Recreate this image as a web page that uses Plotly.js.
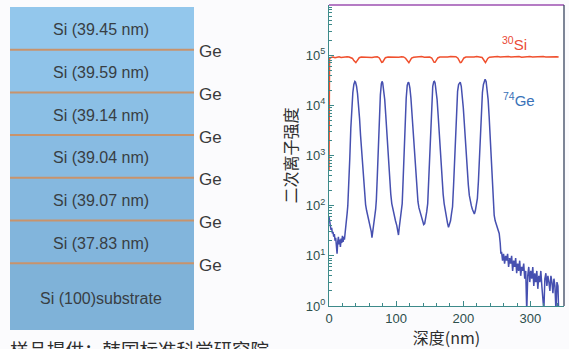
<!DOCTYPE html>
<html><head><meta charset="utf-8">
<script src="https://cdn.plot.ly/plotly-3.0.1.min.js"></script>
<style>html,body{margin:0;padding:0;background:#fbfbfd;} #chart{width:569px;height:349px;}</style>
</head><body><div id="chart"></div>
<script>
// ---- schematic content ----
const layerLabels = ['Si (39.45 nm)', 'Si (39.59 nm)', 'Si (39.14 nm)', 'Si (39.04 nm)', 'Si (39.07 nm)', 'Si (37.83 nm)'];
const substrateLabel = 'Si (100)substrate';
const interfaceLabel = 'Ge';
const caption = '样品提供：韩国标准科学研究院';

// ---- depth profile data ----
const geDepth = [0,1,2,3,4,5,6,7,8,9,10,11,12,13,14,15,16,17,18,19,20,21,22,23,24,25,26,27,
  28,29.5,31,32.5,34,35.5,37,38.5,39.5,41,42.5,44,45.5,47,48.5,50,51.5,53,54.5,56,58,60,61.5,63,64,65,66.5,68,69.5,
  70.5,72,73.5,75,76.5,78,79,80,81.5,83,84.5,86,87.5,89,90.5,92,93.5,95,97,99,101,102.5,103.5,104.5,106,107.5,
  109,110.5,112,113.5,115,116.5,118,119,120.5,122,123.5,125,126.5,128,129.5,131,132.5,134,136,138,139.5,141,142.5,144,145.5,
  147,148.5,150,151.5,153,154.5,156,157,158,159.5,161,162.5,164,165.5,167,168.5,170,171.5,173,175,176.5,178,179.5,181,182.5,184,
  185.5,187,188.5,190,191.5,193,194.5,195.5,197,198.5,200,201.5,203,204.5,206,207.5,209,210.5,212,213.5,215,216.5,218,219.5,221,
  222.5,224,225.5,227,228.5,230,231.5,232.5,234,235.5,237,238.5,240,241.5,243,244.5,246,247.5,249,250.5,252,253.5,255,256,
  257,258.5,260,261.5,263,264.5,266,267.5,269,270.5,272,273.5,275,276.5,278,279.5,281,282.5,284,285.5,287,288.5,290,291.5,293,294.5,
  296,297.5,299,300.5,302,303.5,305,306.5,308,309.5,311,312.5,314,315.5,317,318.5,320,321.5,323,324.5,326,327.5,329,330.5,332,333.5,
  335,336.5,338,339.5,341,342];
const geIntensity = [60,45,40,33,36,28,30,24,27,20,23,16,11,19,24,17,21,15,22,18,25,19,24,21,27,33,45,70,
  100,250,900,3500,9500,18000,26000,30000,29000,24000,17000,11000,5500,2500,1200,600,300,150,105,80,62,48,38,30,23,32,45,60,85,
  130,400,1500,6000,16000,27000,30000,28000,21000,13000,6500,3000,1400,650,320,170,110,85,65,50,40,30,26,35,50,75,
  110,350,1300,5000,14000,25000,29000,28000,22000,14000,7000,3200,1500,700,350,180,120,90,70,55,45,42,44,55,75,
  110,330,1200,4800,13000,24000,29500,30000,28000,21000,13000,6500,3000,1400,650,320,170,110,80,60,45,37,42,50,70,95,
  250,900,3500,10000,19000,26000,29000,29000,24000,16000,9000,4500,2000,950,480,260,160,120,100,85,72,68,80,100,140,
  300,1000,3500,9500,18000,26000,32000,33000,30000,22000,13000,6000,2500,900,300,110,65,50,42,36,32,28,18,11,
  12,8,11,7,10,8,11,6,9,7,10,5,8,6,9,4.5,7,5,8,4,6,5,7,3.5,5,0.8,
  4,6,3,5,3.5,6,2.5,4.5,3,5,2.2,4,3,5,2.5,1.5,0.8,3.5,4.5,2.5,4,3,2,4,3,1.8,
  3.5,2.5,0.8,3,2.5,0.8];

const siDepth = [0,0.8,3,6,9,12,15,18,21,24,27,30,33,35,37,38.5,40,41.5,43,45,48,52,56,60,64,68,72,75,77,78.5,80,82,84,88,92,96,100,104,108,
  111,114,116,117.5,119,121,123,126,130,134,138,142,146,150,153,155,156.5,158,160,162,165,169,173,177,181,185,189,192,194,195.5,197,199,201,
  204,208,212,216,220,224,228,230,231.5,233,234.5,236.5,239,243,247,251,255,259,263,267,271,275,279,283,287,291,295,299,303,307,311,315,
  319,323,327,331,335,339,342];
const siIntensity = [500,85000,90000,92000,89000,91000,93000,90000,92000,91000,93000,92000,90000,86000,78000,72000,71000,76000,84000,89000,92000,91000,93000,92000,90000,92000,93000,88000,78000,72000,73000,82000,89000,92000,91000,93000,92000,91000,93000,
  92000,87000,78000,72000,71000,79000,87000,91000,93000,92000,94000,91000,93000,92000,88000,78000,72000,72000,80000,88000,92000,91000,93000,92000,94000,92000,93000,87000,77000,71000,72000,80000,88000,
  92000,91000,93000,92000,94000,93000,90000,82000,73000,71000,77000,86000,91000,93000,92000,94000,92000,93000,91000,94000,92000,93000,92000,94000,91000,93000,92000,94000,92000,93000,91000,93000,
  94000,92000,93000,92000,94000,93000,92000];

const seriesNames = ['<sup>30</sup>Si', '<sup>74</sup>Ge'];
const xTitle = '深度(nm)';
const yTitle = '二次离子强度';
const xTickVals = [0, 100, 200, 300];
const xTickText = ['0', '100', '200', '300'];
const yTickVals = [1, 10, 100, 1000, 10000, 100000, 1000000];
const yTickText = ['10<sup>0</sup>', '10<sup>1</sup>', '10<sup>2</sup>', '10<sup>3</sup>', '10<sup>4</sup>', '10<sup>5</sup>', '10<sup>6</sup>'];

// minor log ticks (2..9 within each decade) for styling
const yMinorVals = [];
for (let d = 0; d < yTickVals.length - 1; d++) {
  for (let m = 2; m <= 9; m++) yMinorVals.push(yTickVals[d] * m);
}

// ---- layout helpers (pixel -> paper) ----
const W = 569, H = 349;
const px = x => x / W;
const py = y => 1 - y / H;

const boxL = 10, boxR = 194, boxTop = 7, layerH = 42.7, boxBottom = 330;
const layerColors = ['#93c7ec', '#8fc3e9', '#8bbfe5', '#88bbe2', '#85b8df', '#82b5dc', '#7fb2d8'];
const labelFont = {family: 'Liberation Sans, Arial, sans-serif', size: 16, color: '#383e44'};

const shapes = [];
const annotations = [];
const nLayers = layerLabels.length;
for (let i = 0; i <= nLayers; i++) {
  const y0 = boxTop + i * layerH;
  const y1 = i < nLayers ? boxTop + (i + 1) * layerH : boxBottom;
  shapes.push({type: 'rect', xref: 'paper', yref: 'paper', x0: px(boxL), x1: px(boxR), y0: py(y0), y1: py(y1),
    fillcolor: layerColors[i], line: {width: 0}, layer: 'below'});
  annotations.push({xref: 'paper', yref: 'paper', x: px(101), y: py((y0 + y1) / 2 + 1.5),
    text: i < nLayers ? layerLabels[i] : substrateLabel, showarrow: false, font: labelFont,
    xanchor: 'center', yanchor: 'middle'});
}
for (let i = 1; i <= nLayers; i++) {
  const y = boxTop + i * layerH;
  shapes.push({type: 'line', xref: 'paper', yref: 'paper', x0: px(boxL), x1: px(boxR), y0: py(y), y1: py(y),
    line: {color: '#c8936c', width: 2}});
  annotations.push({xref: 'paper', yref: 'paper', x: px(197), y: py(y + 2), text: interfaceLabel, showarrow: false,
    font: {family: 'Liberation Sans, Arial, sans-serif', size: 17, color: '#3a3a3a'}, xanchor: 'left', yanchor: 'middle'});
}
// plot frame accents (top & right)
shapes.push({type: 'line', xref: 'paper', yref: 'paper', x0: px(329), x1: px(564), y0: py(5), y1: py(5), line: {color: '#9c4fb0', width: 1.3}});
shapes.push({type: 'line', xref: 'paper', yref: 'paper', x0: px(564), x1: px(564), y0: py(5), y1: py(306), line: {color: '#3a4660', width: 1.3}});

annotations.push({xref: 'paper', yref: 'paper', x: px(8), y: 0, text: caption, showarrow: false,
  font: {family: 'Noto Sans CJK SC, sans-serif', size: 18.5, color: '#2e2e2e'}, xanchor: 'left', yanchor: 'middle'});
annotations.push({xref: 'x', yref: 'y', x: 277, y: 5.24, text: seriesNames[0], showarrow: false,
  font: {family: 'Liberation Sans, Arial, sans-serif', size: 15, color: '#ea4a36'}});
annotations.push({xref: 'x', yref: 'y', x: 283, y: 4.11, text: seriesNames[1], showarrow: false,
  font: {family: 'Liberation Sans, Arial, sans-serif', size: 15, color: '#3a72b8'}});

const tickFont = {family: 'Liberation Sans, Arial, sans-serif', size: 13, color: '#2d4f4c'};
const titleFont = {family: 'Noto Sans CJK SC, sans-serif', size: 16, color: '#2e2e2e'};

const traces = [
  {x: geDepth, y: geIntensity, type: 'scatter', mode: 'lines', name: '74Ge', line: {color: '#4650b0', width: 1.5}},
  {x: siDepth, y: siIntensity, type: 'scatter', mode: 'lines', name: '30Si', line: {color: '#f0502e', width: 1.5}}
];

const layout = {
  width: W, height: H,
  margin: {l: 0, r: 0, t: 0, b: 0},
  paper_bgcolor: '#fbfbfd', plot_bgcolor: '#ffffff',
  showlegend: false,
  xaxis: {domain: [px(329), px(564)], range: [0, 350], tickmode: 'array', tickvals: xTickVals, ticktext: xTickText,
    ticks: 'inside', ticklen: 5, tickcolor: '#3d8a8a', showline: true, linecolor: '#3d8a8a', linewidth: 1.2, mirror: false,
    showgrid: false, zeroline: false, tickfont: tickFont,
    minor: {dtick: 20, ticks: 'inside', ticklen: 3, tickcolor: '#3d8a8a', showgrid: false},
    title: {text: xTitle, font: titleFont, standoff: 2}},
  yaxis: {domain: [py(306), py(5)], type: 'log', range: [0, 6], tickmode: 'array', tickvals: yTickVals, ticktext: yTickText,
    ticks: 'inside', ticklen: 5, tickcolor: '#3d8a8a', showline: true, linecolor: '#3d8a8a', linewidth: 1.2,
    showgrid: false, zeroline: false, tickfont: tickFont,
    minor: {tickmode: 'array', tickvals: yMinorVals, ticks: 'inside', ticklen: 3, tickcolor: '#3d8a8a', showgrid: false},
    title: {text: yTitle, font: titleFont, standoff: 4}},
  shapes: shapes,
  annotations: annotations
};

Plotly.newPlot('chart', traces, layout, {displayModeBar: false, staticPlot: true});
</script>
</body></html>
